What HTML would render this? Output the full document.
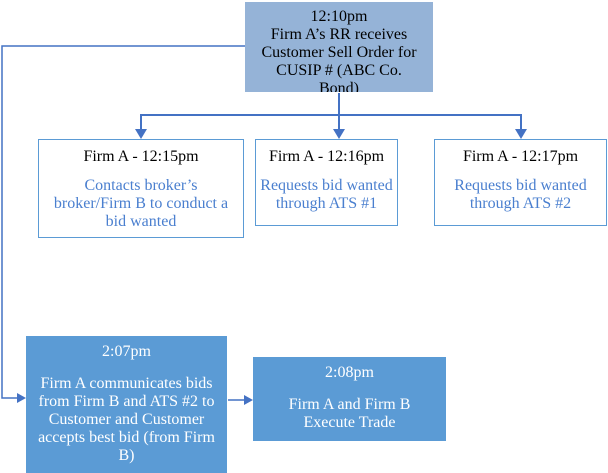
<!DOCTYPE html>
<html><head><style>
body{margin:0;width:608px;height:473px;background:#fff;position:relative;overflow:hidden;font-family:"Liberation Serif","Times New Roman","DejaVu Serif",serif;font-size:16px;}
.b{position:absolute;box-sizing:border-box;text-align:center;line-height:18px;overflow:hidden;font-family:"Liberation Serif","Times New Roman","DejaVu Serif",serif}
.o{border:1.5px solid #5b9bd5;background:#fff;color:#000}
.o .s{color:#4a7fcf}
</style></head><body>
<svg width="608" height="473" style="position:absolute;left:0;top:0">
<g stroke="#4472c4" fill="none" stroke-width="1.5">
<polyline points="245,46 2,46 2,398 18,398"/>
<line x1="339" y1="93" x2="339" y2="130" stroke-width="2"/>
<polyline points="141,130 141,115 521,115 521,130" stroke-width="2"/>
<line x1="228" y1="400" x2="245" y2="400"/>
</g>
<g fill="#4472c4">
<polygon points="135,129 147,129 141,139"/>
<polygon points="333,129 345,129 339,139"/>
<polygon points="515,129 527,129 521,139"/>
<polygon points="17,393 26,398 17,403"/>
<polygon points="244,395 253,400 244,405"/>
</g>
</svg>
<div class="b" style="left:245px;top:2px;width:188px;height:90px;background:#95b3d7;padding-top:6px">12:10pm<br>Firm A’s RR receives<br>Customer Sell Order for<br>CUSIP # (ABC Co.<br>Bond)</div>
<div class="b o" style="left:38px;top:139px;width:206px;height:99px;padding-top:8px">Firm A - 12:15pm<div class="s" style="margin-top:11px">Contacts broker’s<br>broker/Firm B to conduct a<br>bid wanted</div></div>
<div class="b o" style="left:255px;top:139px;width:143px;height:87px;padding-top:8px">Firm A - 12:16pm<div class="s" style="margin-top:11px">Requests bid wanted<br>through ATS #1</div></div>
<div class="b o" style="left:434px;top:139px;width:173px;height:87px;padding-top:8px">Firm A - 12:17pm<div class="s" style="margin-top:11px">Requests bid wanted<br>through ATS #2</div></div>
<div class="b" style="left:26px;top:336px;width:201px;height:137px;background:#5b9bd5;color:#fff;padding-top:7px">2:07pm<div style="margin-top:14px">Firm A communicates bids<br>from Firm B and ATS #2 to<br>Customer and Customer<br>accepts best bid (from Firm<br>B)</div></div>
<div class="b" style="left:253px;top:357px;width:193px;height:84px;background:#5b9bd5;color:#fff;padding-top:7px">2:08pm<div style="margin-top:14px">Firm A and Firm B<br>Execute Trade</div></div>
</body></html>
